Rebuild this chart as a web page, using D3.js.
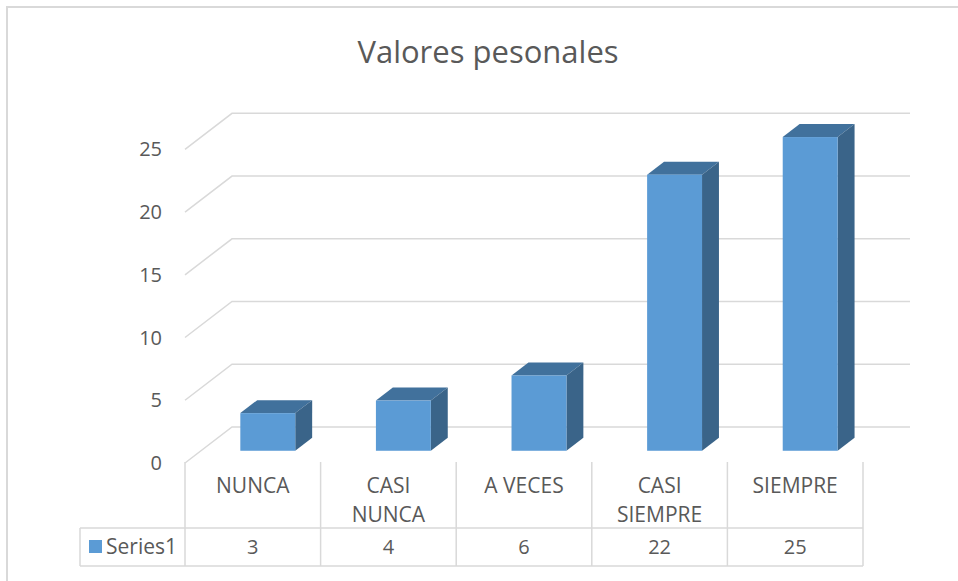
<!DOCTYPE html>
<html>
<head>
<meta charset="utf-8">
<script src="https://cdn.jsdelivr.net/npm/d3@7"></script>
<style>
  body { margin: 0; background: #fff; }
  text { font-family: "Open Sans", "Noto Sans", sans-serif; fill: #595959; }
</style>
</head>
<body>
<div id="chart"></div>
<script>
// data
var categories = [["NUNCA"], ["CASI", "NUNCA"], ["A VECES"], ["CASI", "SIEMPRE"], ["SIEMPRE"]];
var values = [3, 4, 6, 22, 25];
var yTicks = [0, 5, 10, 15, 20, 25];
var seriesName = "Series1";

var width = 958, height = 581;

var svg = d3.select("#chart").append("svg")
  .attr("width", width)
  .attr("height", height);

// chart border (only top/left visible in the crop)
svg.append("path")
  .attr("d", "M7,600 L7,7 L970,7")
  .attr("fill", "none")
  .attr("stroke", "#d9d9d9")
  .attr("stroke-width", 2);

// title
svg.append("text")
  .attr("x", 488)
  .attr("y", 63)
  .attr("text-anchor", "middle")
  .style("font-size", "31px")
  .text("Valores pesonales");

// oblique 3d: depth d, 0 = back wall, 1 = front edge
var depthX = -47, depthY = 36;

// x scale on the front plane
var x = d3.scaleBand()
  .domain(d3.range(values.length))
  .range([185, 863]);

// y scale on the back wall
var y = d3.scaleLinear()
  .domain([0, 25])
  .range([427, 113.3]);

function px(xf, d) { return xf + (1 - d) * (-depthX); }
function py(v, d) { return y(v) + d * depthY; }

var grid = svg.append("g");
yTicks.forEach(function(t) {
  grid.append("polyline")
    .attr("points", [[px(x.range()[0], 1), py(t, 1)], [px(x.range()[0], 0), py(t, 0)], [px(x.range()[1], 0), py(t, 0)]].join(" "))
    .attr("fill", "none")
    .attr("stroke", "#d9d9d9")
    .attr("stroke-width", 1.5);
});

// y labels
svg.append("g").selectAll("text")
  .data(yTicks)
  .enter().append("text")
  .attr("x", 162)
  .attr("y", function(d) { return py(d, 1); })
  .attr("dy", "0.35em")
  .attr("text-anchor", "end")
  .style("font-size", "20px")
  .text(function(d) { return d; });

// bars
var dFront = 0.66, dBack = 0.30;
var barW = x.bandwidth() * 0.405;
var bars = svg.append("g").selectAll("g")
  .data(values)
  .enter().append("g");

function barX0(i) { return x(i) + x.bandwidth() / 2 - barW / 2 - 1; }

// top
bars.append("path")
  .attr("fill", "#41719c")
  .attr("d", function(v, i) {
    var x0 = barX0(i), x1 = x0 + barW;
    return "M" + px(x0, dFront) + "," + py(v, dFront) +
      "L" + px(x0, dBack) + "," + py(v, dBack) +
      "L" + px(x1, dBack) + "," + py(v, dBack) +
      "L" + px(x1, dFront) + "," + py(v, dFront) + "Z";
  });
// side
bars.append("path")
  .attr("fill", "#3a6489")
  .attr("d", function(v, i) {
    var x1 = barX0(i) + barW;
    return "M" + px(x1, dFront) + "," + py(v, dFront) +
      "L" + px(x1, dBack) + "," + py(v, dBack) +
      "L" + px(x1, dBack) + "," + py(0, dBack) +
      "L" + px(x1, dFront) + "," + py(0, dFront) + "Z";
  });
// front
bars.append("rect")
  .attr("fill", "#5b9bd5")
  .attr("x", function(v, i) { return px(barX0(i), dFront); })
  .attr("y", function(v) { return py(v, dFront); })
  .attr("width", barW)
  .attr("height", function(v) { return py(0, dFront) - py(v, dFront); });

// data table
var rowTop = 462, rowMid = 528, rowBot = 566, legendLeft = 80;
var tbl = svg.append("g")
  .attr("stroke", "#d9d9d9")
  .attr("stroke-width", 1.5)
  .attr("fill", "none");

d3.range(values.length + 1).forEach(function(i) {
  var xx = i < values.length ? x(i) : x.range()[1];
  tbl.append("line")
    .attr("x1", xx).attr("x2", xx)
    .attr("y1", rowTop).attr("y2", rowBot);
});
[rowMid, rowBot].forEach(function(yy) {
  tbl.append("line")
    .attr("x1", legendLeft).attr("x2", x.range()[1])
    .attr("y1", yy).attr("y2", yy);
});
tbl.append("line")
  .attr("x1", legendLeft).attr("x2", legendLeft)
  .attr("y1", rowMid).attr("y2", rowBot);

// category labels
svg.append("g").selectAll("text")
  .data(categories)
  .enter().append("text")
  .attr("x", function(d, i) { return x(i) + x.bandwidth() / 2; })
  .attr("y", 493)
  .attr("text-anchor", "middle")
  .style("font-size", "21px")
  .each(function(lines) {
    var t = d3.select(this);
    lines.forEach(function(l, k) {
      t.append("tspan")
        .attr("x", t.attr("x"))
        .attr("dy", k === 0 ? 0 : 28.5)
        .text(l);
    });
  });

// values row
svg.append("g").selectAll("text")
  .data(values)
  .enter().append("text")
  .attr("x", function(d, i) { return x(i) + x.bandwidth() / 2; })
  .attr("y", (rowMid + rowBot) / 2)
  .attr("dy", "0.35em")
  .attr("text-anchor", "middle")
  .style("font-size", "20px")
  .text(function(d) { return d; });

// legend key
svg.append("rect")
  .attr("x", 89).attr("y", 540)
  .attr("width", 13).attr("height", 13)
  .attr("fill", "#5b9bd5");
svg.append("text")
  .attr("x", 106)
  .attr("y", (rowMid + rowBot) / 2)
  .attr("dy", "0.35em")
  .style("font-size", "21px")
  .text(seriesName);
</script>
</body>
</html>
